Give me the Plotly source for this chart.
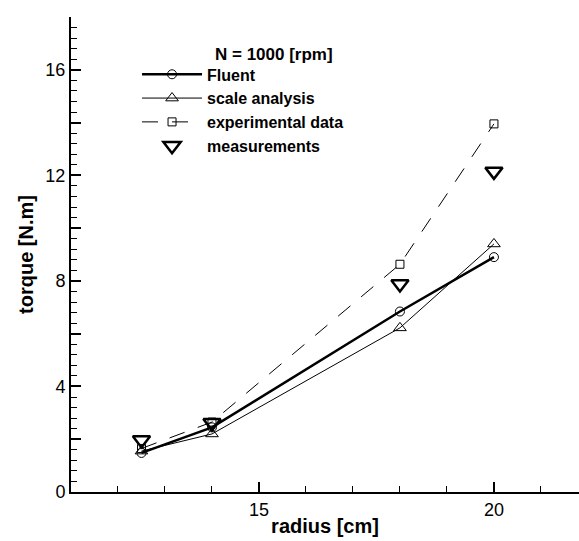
import plotly.graph_objects as go

radius = [12.5, 14, 18, 20]
fluent = [1.48, 2.45, 6.84, 8.9]
scale_analysis = [1.55, 2.2, 6.22, 9.4]
experimental = [1.65, 2.65, 8.63, 13.95]
measurements = [1.97, 2.62, 7.88, 12.15]

y_tickvals = [0, 2, 4, 6, 8, 10, 12, 14, 16, 18]
y_ticktext = ["0", "", "4", "", "8", "", "12", "", "16", ""]
x_tickvals = [15, 20]
x_ticktext = ["15", "20"]

FONT = "Liberation Sans, Arial, sans-serif"

fig = go.Figure()
fig.add_trace(go.Scatter(x=radius, y=fluent, name="Fluent", mode="lines+markers",
                         line=dict(color="black", width=2.5),
                         marker=dict(symbol="circle-open", size=9, color="black", line=dict(width=1))))
fig.add_trace(go.Scatter(x=radius, y=scale_analysis, name="scale analysis", mode="lines+markers",
                         line=dict(color="black", width=1),
                         marker=dict(symbol="triangle-up-open", size=11, color="black", line=dict(width=1))))
fig.add_trace(go.Scatter(x=radius, y=experimental, name="experimental data", mode="lines+markers",
                         line=dict(color="black", width=1, dash="16px,14px"),
                         marker=dict(symbol="square-open", size=8, color="black", line=dict(width=1))))
fig.add_trace(go.Scatter(x=radius, y=measurements, name="measurements", mode="markers",
                         marker=dict(symbol="triangle-down-open", size=15, color="black", line=dict(width=2.5))))

fig.update_layout(
    width=579, height=541,
    margin=dict(l=71, r=0, t=17, b=49),
    plot_bgcolor="white", paper_bgcolor="white",
    font=dict(family=FONT, color="black", size=18),
    showlegend=True,
    legend=dict(x=0.13, y=0.915, xanchor="left", yanchor="top",
                bgcolor="rgba(0,0,0,0)", itemwidth=60, tracegroupgap=0,
                font=dict(family=FONT, size=16, color="black", weight="bold")),
    annotations=[dict(text="<b>N = 1000 [rpm]</b>", xref="paper", yref="paper", x=0.28, y=0.92,
                      xanchor="left", yanchor="middle", showarrow=False,
                      font=dict(family=FONT, size=17, color="black"))],
)
fig.update_xaxes(range=[11, 21.81], showline=True, linecolor="black", linewidth=2,
                 showgrid=False, zeroline=False, tickvals=x_tickvals, ticktext=x_ticktext,
                 ticks="inside", ticklen=10, tickwidth=2, tickcolor="black",
                 minor=dict(dtick=1, tick0=11, ticks="inside", ticklen=6, tickwidth=1, tickcolor="black", showgrid=False),
                 title=dict(text="<b>radius [cm]</b>", font=dict(size=20), standoff=0))
fig.update_yaxes(range=[0, 18], showline=True, linecolor="black", linewidth=2,
                 showgrid=False, zeroline=False, tickvals=y_tickvals, ticktext=y_ticktext,
                 ticks="inside", ticklen=10, tickwidth=2, tickcolor="black",
                 minor=dict(dtick=0.4, tick0=0, ticks="inside", ticklen=6, tickwidth=1, tickcolor="black", showgrid=False),
                 title=dict(text="<b>torque [N.m]</b>", font=dict(size=20), standoff=6))

fig.write_html("out.html")
